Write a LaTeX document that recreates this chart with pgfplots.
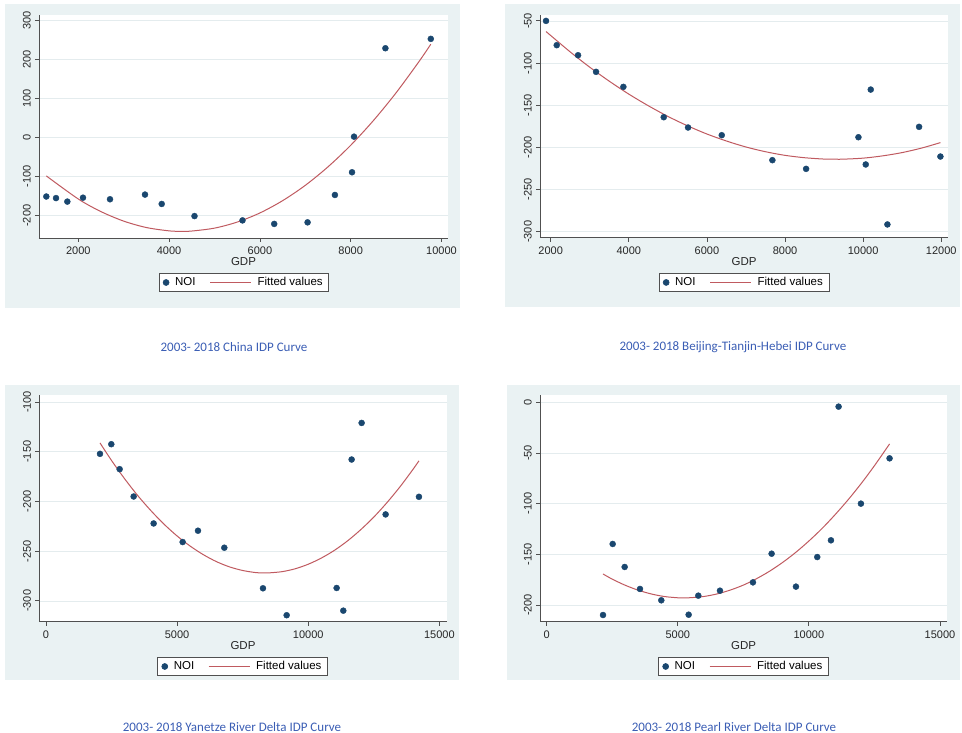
\documentclass[border=0pt]{standalone}
\usepackage{fontspec}
\setmainfont{Liberation Sans}
\newfontfamily\capfont{Carlito}
\usepackage{pgfplots}
\pgfplotsset{compat=1.18}
\definecolor{bgc}{HTML}{EAF2F3}
\definecolor{navy}{HTML}{1A476F}
\definecolor{fitc}{HTML}{C05A60}
\definecolor{axc}{HTML}{505050}
\definecolor{gridc}{HTML}{E4ECEE}
\definecolor{capc}{HTML}{3A5DB4}
\pgfplotsset{
  stata/.style={
    scale only axis,
    scaled ticks=false,
    axis lines=left,
    axis line style={-, color=axc, line width=0.8pt},
    axis background/.style={fill=white},
    tick align=outside,
    major tick length=4pt,
    tick style={color=axc, line width=0.8pt},
    ymajorgrids,
    grid style={color=gridc, line width=0.6pt},
    ticklabel style={font=\fontsize{11}{12}\selectfont, color=black!85, inner sep=0pt},
    yticklabel style={rotate=90, anchor=south},
    xticklabel style={anchor=north},
    xticklabel shift=5pt,
    yticklabel shift=4pt,
    xlabel={GDP},
    xlabel style={at={(axis description cs:0.5,0)}, anchor=center, yshift=-23.5pt, font=\fontsize{11.5}{12}\selectfont, inner sep=0pt, color=black!85},
    legend columns=2,
    legend cell align=left,
    legend style={anchor=center, draw=axc, line width=0.6pt, fill=white, font=\fontsize{11.5}{12}\selectfont, inner xsep=4pt, inner ysep=2pt,
      /tikz/every odd column/.append style={column sep=4pt},
      /tikz/every even column/.append style={column sep=12pt}},
  },
  noi/.style={only marks, mark=*, mark size=3pt, color=navy, legend image code/.code={\draw[##1] plot coordinates {(0pt,0pt)};}},
  fit/.style={no marks, color=fitc, line width=1pt, smooth, legend image code/.code={\draw[##1] (0pt,0pt) -- (41pt,0pt);}},
}
\begin{document}
\begin{tikzpicture}
\path[use as bounding box] (0pt,0pt) rectangle (962pt,733pt);
\fill[bgc] (5pt,425pt) rectangle (460pt,729pt);
\fill[bgc] (505pt,426pt) rectangle (960pt,729pt);
\fill[bgc] (5pt,53pt) rectangle (459pt,348pt);
\fill[bgc] (507pt,53pt) rectangle (960pt,348pt);

% Panel 1: China
\begin{axis}[stata, at={(39pt,495pt)}, anchor=south west, width=409pt, height=223pt,
  xmin=1134, xmax=10143, ymin=-257, ymax=313,
  xtick={2000,4000,6000,8000,10000}, xticklabels={2000,4000,6000,8000,10000},
  ytick={-200,-100,0,100,200,300}, yticklabels={-200,-100,0,100,200,300},
  legend style={at={(axis description cs:0.501,-0.1996)}}]
\addplot[noi] coordinates {(1295,-151) (1509,-155) (1758,-164) (2103,-154) (2698,-158) (3469,-146) (3837,-170) (4559,-201) (5617,-212) (6315,-221) (7050,-217) (7652,-147) (8029,-89) (8073,2) (8764,228) (9764,252)};
\addlegendentry{NOI}
\addplot[fit] coordinates {(1295,-98.3) (2000,-157.4) (2500,-189.6) (3000,-213.9) (3500,-230.3) (4000,-238.8) (4280,-240) (4500,-239.2) (5000,-231.8) (5500,-216.3) (6000,-193.0) (6500,-161.6) (7000,-122.4) (7500,-75.1) (8000,-20.0) (8500,43.2) (9000,114.2) (9500,193.3) (9764,238.2)};
\addlegendentry{Fitted values}
\end{axis}

% Panel 2: Beijing-Tianjin-Hebei
\begin{axis}[stata, at={(540pt,495.3pt)}, anchor=south west, width=408.3pt, height=222.7pt,
  xmin=1726, xmax=12180, ymin=-307, ymax=-43,
  xtick={2000,4000,6000,8000,10000,12000}, xticklabels={2000,4000,6000,8000,10000,12000},
  ytick={-300,-250,-200,-150,-100,-50}, yticklabels={-300,-250,-200,-150,-100,-50},
  legend style={at={(axis description cs:0.4996,-0.201)}}]
\addplot[noi] coordinates {(1880,-50) (2154,-78.8) (2700,-90.7) (3161,-110.4) (3861,-128.2) (4894,-164.2) (5517,-176.4) (6379,-185.5) (7676,-215.1) (8539,-225.4) (9879,-187.9) (10066,-220.2) (10194,-131.4) (10621,-291.3) (11432,-175.6) (11978,-210.8)};
\addlegendentry{NOI}
\addplot[fit] coordinates {(1880,-62.6) (2500,-86.8) (3000,-104.9) (3500,-121.5) (4000,-136.8) (4500,-150.6) (5000,-163.2) (5500,-174.3) (6000,-184.1) (6500,-192.4) (7000,-199.5) (7500,-205.1) (8000,-209.4) (8500,-212.2) (9000,-213.8) (9300,-214) (9500,-213.9) (10000,-212.7) (10500,-210.0) (11000,-206.1) (11500,-200.7) (11978,-194.3)};
\addlegendentry{Fitted values}
\end{axis}

% Panel 3: Yangtze River Delta
\begin{axis}[stata, at={(39.3pt,111.3pt)}, anchor=south west, width=407.4pt, height=226.7pt,
  xmin=-255, xmax=15280, ymin=-321, ymax=-93,
  xtick={0,5000,10000,15000}, xticklabels={0,5000,10000,15000},
  ytick={-300,-250,-200,-150,-100}, yticklabels={-300,-250,-200,-150,-100},
  legend style={at={(axis description cs:0.499,-0.1976)}}]
\addplot[noi] coordinates {(2059,-152.2) (2491,-142.5) (2809,-167.6) (3343,-195.1) (4105,-222.2) (5211,-240.9) (5796,-229.5) (6800,-246.6) (8274,-287.4) (9177,-314.5) (11083,-287.1) (11337,-309.9) (11655,-157.9) (12036,-121.1) (12951,-213.1) (14222,-195.4)};
\addlegendentry{NOI}
\addplot[fit] coordinates {(2059,-141.2) (2500,-158.9) (3000,-177.3) (3500,-194.2) (4000,-209.3) (4500,-222.9) (5000,-234.8) (5500,-245.0) (6000,-253.6) (6500,-260.6) (7000,-265.9) (7500,-269.5) (8000,-271.6) (8365,-272) (8500,-271.9) (9000,-270.7) (9500,-267.8) (10000,-263.2) (10500,-257.0) (11000,-249.2) (11500,-239.7) (12000,-228.5) (12500,-215.8) (13000,-201.3) (13500,-185.3) (14000,-167.6) (14222,-159.2)};
\addlegendentry{Fitted values}
\end{axis}

% Panel 4: Pearl River Delta
\begin{axis}[stata, at={(540pt,111.3pt)}, anchor=south west, width=407.3pt, height=226.7pt,
  xmin=-255, xmax=15280, ymin=-216.5, ymax=7.2,
  xtick={0,5000,10000,15000}, xticklabels={0,5000,10000,15000},
  ytick={-200,-150,-100,-50,0}, yticklabels={-200,-150,-100,-50,0},
  legend style={at={(axis description cs:0.4996,-0.1976)}}]
\addplot[noi] coordinates {(2148,-209.9) (2517,-139.8) (2974,-162.5) (3559,-184.2) (4372,-195.4) (5414,-209.6) (5783,-190.8) (6609,-185.9) (7867,-177.7) (8579,-149.4) (9507,-181.9) (10320,-152.7) (10842,-136.2) (11134,-4.3) (11985,-100.0) (13078,-55.3)};
\addlegendentry{NOI}
\addplot[fit] coordinates {(2148,-169.4) (2500,-174.5) (3000,-180.6) (3500,-185.5) (4000,-189.2) (4500,-191.7) (5000,-192.9) (5238,-193) (5500,-192.8) (6000,-191.6) (6500,-189.1) (7000,-185.3) (7500,-180.4) (8000,-174.1) (8500,-166.7) (9000,-158.0) (9500,-148.1) (10000,-136.9) (10500,-124.6) (11000,-110.9) (11500,-96.1) (12000,-80.0) (12500,-62.6) (13078,-41.1)};
\addlegendentry{Fitted values}
\end{axis}

\node[font=\capfont\fontsize{13}{14}\selectfont, color=capc] at (234pt,386pt) {2003- 2018 China IDP Curve};
\node[font=\capfont\fontsize{13}{14}\selectfont, color=capc] at (733pt,386pt) {2003- 2018 Beijing-Tianjin-Hebei IDP Curve};
\node[font=\capfont\fontsize{13}{14}\selectfont, color=capc] at (232pt,6pt) {2003- 2018 Yanetze River Delta IDP Curve};
\node[font=\capfont\fontsize{13}{14}\selectfont, color=capc] at (734pt,6pt) {2003- 2018 Pearl River Delta IDP Curve};
\end{tikzpicture}
\end{document}
